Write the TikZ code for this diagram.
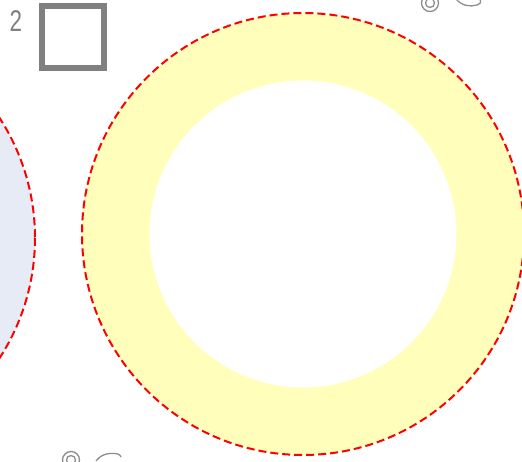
\documentclass[tikz,border=0pt]{standalone}
\usepackage{fontspec}
\setsansfont{Liberation Sans}
\usepackage{tikz}
\usetikzlibrary{calc}
\usepackage{xcolor}
\definecolor{anillo}{RGB}{255,255,187}
\definecolor{azulclaro}{RGB}{230,235,246}
\definecolor{gris}{RGB}{128,128,128}

\begin{document}
\begin{tikzpicture}[x=1pt,y=-1pt,
  borde/.style={draw=red,line width=2pt,dash pattern=on 8pt off 4pt},
  icono/.style={draw=gris!90,line width=1.3pt}]
  \begin{scope}
    \clip (0,0) rectangle (522,462);
    \path[use as bounding box] (0,0) rectangle (522,462);
    % Disco azul a la izquierda, casi fuera del cuadro
    \fill[azulclaro] (-186,238) circle[radius=221];
    \draw[borde] (-186,238) circle[radius=221];
    % Anillo amarillo: disco exterior menos el interior
    \fill[anillo,even odd rule] (303,234) circle[radius=221] (303,234) circle[radius=153.5];
    \draw[borde] (303,234) circle[radius=221];
    % Iconos cortados por el borde
    \draw[icono] (430,3) circle[radius=8.5] (430,3) circle[radius=4.5];
    \draw[icono] (456,-1) .. controls (462,6) and (470,7) .. (477,5) .. controls (481,3) .. (480,-1);
    \draw[icono] (71,460) circle[radius=8.5] (71,460) circle[radius=4.5];
    \draw[icono] (96,461) .. controls (100,456) and (104,454) .. (110,453.5) .. controls (117,453) and (120,454) .. (121,457);
  \end{scope}
  % Etiqueta y cuadro
  \node[text=gris,font=\sffamily\fontsize{30}{30}\selectfont,xscale=0.75] (num) at (16,21) {2};
  \node[draw=gris,line width=6pt,minimum size=62pt,inner sep=0pt] (caja) at (73,37) {};
\end{tikzpicture}
\end{document}
